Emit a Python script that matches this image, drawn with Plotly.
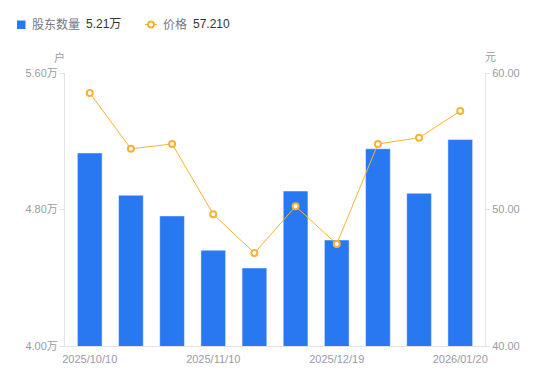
import plotly.graph_objects as go

dates = ["2025/10/10", "2025/10/20", "2025/10/31", "2025/11/10", "2025/11/20",
         "2025/11/28", "2025/12/19", "2025/12/31", "2026/01/09", "2026/01/20"]
holders = [5.131, 4.883, 4.762, 4.561, 4.457, 4.908, 4.621, 5.156, 4.895, 5.210]  # 万户
price = [58.53, 54.45, 54.80, 49.65, 46.81, 50.23, 47.47, 54.80, 55.26, 57.21]
tick_dates = ["2025/10/10", "2025/11/10", "2025/12/19", "2026/01/20"]
left_ticks = [4.0, 4.8, 5.6]
right_ticks = [40, 50, 60]

W, H = 550, 381
ML, MR, MT, MB = 65, 65, 73, 35
PW, PH = W - ML - MR, H - MT - MB

def px(x):
    return (x - ML) / PW

def py(y):
    return (H - MB - y) / PH

FONT = "Liberation Sans, Noto Sans CJK SC, Arial, sans-serif"
GRAY = "#9a9aa6"
BLUE = "#2878F2"
ORANGE = "#F9B235"

fig = go.Figure()
fig.add_trace(go.Bar(x=dates, y=holders, name="股东数量", marker=dict(color=BLUE,
                     line=dict(color="rgba(255,255,255,0.45)", width=1)), width=0.6,
                     yaxis="y", showlegend=False))
fig.add_trace(go.Scatter(x=dates, y=price, name="价格", mode="lines+markers",
                         line=dict(color=ORANGE, width=1),
                         marker=dict(size=6, color="white", line=dict(color=ORANGE, width=2)),
                         yaxis="y2", showlegend=False))

fig.update_layout(
    width=W, height=H, margin=dict(l=ML, r=MR, t=MT, b=MB),
    paper_bgcolor="white", plot_bgcolor="white",
    font=dict(family=FONT, size=11, color=GRAY),
    xaxis=dict(type="category", tickmode="array", tickvals=tick_dates, ticktext=tick_dates,
               showgrid=False, showline=True, linecolor="#e3e3e8", linewidth=1,
               ticks="", ticklabelstandoff=3, tickfont=dict(size=11, color=GRAY), zeroline=False),
    yaxis=dict(range=[4.0, 5.6], tickmode="array", tickvals=left_ticks,
               ticktext=[f"{v:.2f}万" for v in left_ticks],
               showgrid=False, showline=True, linecolor="#e3e3e8", linewidth=1,
               ticks="outside", ticklen=4, tickcolor="#e3e3e8", zeroline=False,
               tickfont=dict(size=11, color=GRAY)),
    yaxis2=dict(range=[40, 60], tickmode="array", tickvals=right_ticks,
                ticktext=[f"{v:.2f}" for v in right_ticks], overlaying="y",
                side="right", showgrid=False, showline=True, linecolor="#e3e3e8", linewidth=1,
                ticks="outside", ticklen=4, tickcolor="#e3e3e8", zeroline=False,
                tickfont=dict(size=11, color=GRAY)),
)

shapes = [
    dict(type="rect", xref="paper", yref="paper", x0=px(17), x1=px(25.5), y0=py(20.5), y1=py(29),
         fillcolor=BLUE, line=dict(width=0)),
    dict(type="line", xref="paper", yref="paper", x0=px(145), x1=px(157), y0=py(24.5), y1=py(24.5),
         line=dict(color=ORANGE, width=1)),
    dict(type="circle", xref="paper", yref="paper", x0=px(148), x1=px(154), y0=py(27.5), y1=py(21.5),
         fillcolor="white", line=dict(color=ORANGE, width=2)),
]
fig.update_layout(shapes=shapes)

anns = [
    dict(text="股东数量", x=px(30), y=py(24.5), xanchor="left", yanchor="middle",
         font=dict(size=12, color="#777780")),
    dict(text=f"{holders[-1]:.2f}万", x=px(84), y=py(24.5), xanchor="left", yanchor="middle",
         font=dict(size=12, color="#333333")),
    dict(text="价格", x=px(161), y=py(24.5), xanchor="left", yanchor="middle",
         font=dict(size=12, color="#777780")),
    dict(text=f"{price[-1]:.3f}", x=px(191), y=py(24.5), xanchor="left", yanchor="middle",
         font=dict(size=12, color="#333333")),
    dict(text="户", x=px(59), y=py(57), xanchor="center", yanchor="middle",
         font=dict(size=11, color=GRAY)),
    dict(text="元", x=px(490), y=py(57), xanchor="center", yanchor="middle",
         font=dict(size=11, color=GRAY)),
]
for a in anns:
    a.update(xref="paper", yref="paper", showarrow=False)
fig.update_layout(annotations=anns)

fig.write_html("out.html", config={"displayModeBar": False},
               post_script="document.body.style.margin='0';document.body.style.padding='0';")
